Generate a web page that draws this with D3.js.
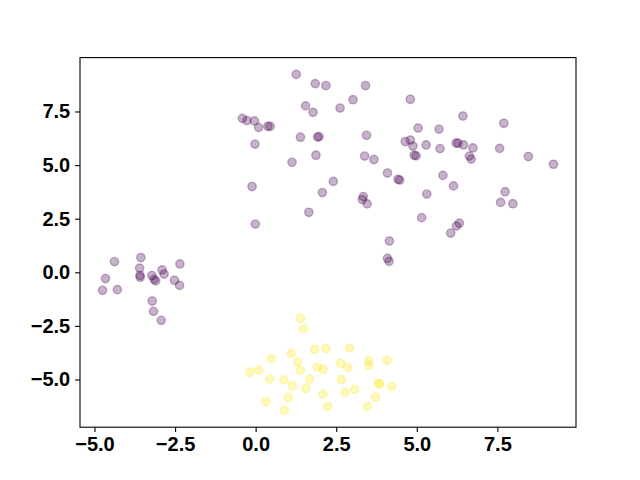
<!DOCTYPE html>
<html>
<head>
<meta charset="utf-8">
<script src="https://cdn.jsdelivr.net/npm/d3@7"></script>
<style>
  body { margin: 0; background: #fff; }
  text { font-family: "Liberation Sans", Arial, sans-serif; font-weight: bold; }
</style>
</head>
<body>
<div id="chart"></div>
<script>
const width = 640, height = 480,
      margin = {top: 57.6, right: 64, bottom: 52.8, left: 80};

// class 0 (purple) points
const purpleX = [1.26, 1.85, 2.18, 1.55, 1.78, -0.41, -0.27, -0.04, 0.09, 0.38, 0.45, 1.39, 1.92, 1.97,
  -0.02, 1.87, 1.13, 2.41, -0.11, 2.07, 1.65, -0.01, 3.41, 3.02, 2.62, 4.80, 6.43, 7.70, 3.44, 5.04,
  5.69, 4.64, 4.80, 4.88, 5.29, 6.22, 6.28, 6.45, 6.74, 5.72, 7.57, 3.38, 3.67, 4.92, 4.98, 6.63,
  6.69, 8.46, 9.24, 4.09, 4.42, 4.47, 5.81, 6.14, 3.34, 3.31, 3.46, 5.31, 7.74, 7.60, 7.98, 5.15,
  6.32, 6.23, 6.05, 4.15, 4.09, 4.14,
  -4.38, -3.56, -4.66, -4.75, -4.29, -3.60, -3.59, -3.58, -3.22, -3.15, -3.10, -2.90, -2.84, -2.35,
  -2.52, -2.36, -3.21, -3.17, -2.93];
const purpleY = [9.23, 8.80, 8.71, 7.76, 7.46, 7.18, 7.08, 7.06, 6.76, 6.81, 6.81, 6.30, 6.31, 6.33,
  5.98, 5.46, 5.13, 4.24, 4.00, 3.72, 2.80, 2.25, 8.71, 8.05, 7.66, 8.07, 7.29, 6.95, 6.39, 6.73,
  6.68, 6.10, 6.17, 5.89, 5.94, 6.03, 6.02, 5.94, 5.80, 5.77, 5.78, 5.42, 5.26, 5.46, 5.43, 5.42,
  5.28, 5.40, 5.04, 4.63, 4.34, 4.30, 4.52, 4.03, 3.53, 3.39, 3.19, 3.65, 3.76, 3.26, 3.20, 2.55,
  2.29, 2.16, 1.83, 1.46, 0.65, 0.51,
  0.50, 0.69, -0.29, -0.84, -0.81, 0.19, -0.14, -0.23, -0.15, -0.33, -0.40, 0.11, -0.08, 0.39,
  -0.37, -0.61, -1.34, -1.82, -2.24];

// class 1 (yellow) points
const yellowX = [1.39, 1.49, 1.10, 0.49, 1.83, 2.18, 2.91, 1.30, -0.18, 0.09, 0.43, 1.39, 0.88, 1.14,
  1.67, 1.91, 2.09, 2.63, 2.85, 3.51, 3.51, 4.08, 2.66, 1.56, 3.80, 3.85, 4.22, 3.07, 2.77, 2.09,
  1.01, 3.72, 0.32, 0.89, 2.23, 3.47];
const yellowY = [-2.15, -2.64, -3.78, -4.03, -3.59, -3.56, -3.53, -4.18, -4.66, -4.56, -4.98, -4.57,
  -5.02, -5.30, -4.98, -4.42, -4.52, -4.24, -4.43, -4.12, -4.34, -4.10, -5.00, -5.41, -5.18, -5.21,
  -5.32, -5.46, -5.60, -5.68, -5.83, -5.82, -6.03, -6.44, -6.26, -6.26];

const xTicks = [-5, -2.5, 0, 2.5, 5, 7.5];
const yTicks = [-5, -2.5, 0, 2.5, 5, 7.5];

const points = [];
purpleX.forEach((x, i) => points.push({x: x, y: purpleY[i], c: 0}));
yellowX.forEach((x, i) => points.push({x: x, y: yellowY[i], c: 1}));

function pad(ext) {
  const m = (ext[1] - ext[0]) * 0.05;
  return [ext[0] - m, ext[1] + m];
}

const x = d3.scaleLinear()
  .domain(pad(d3.extent(points, d => d.x)))
  .range([margin.left, width - margin.right]);
const y = d3.scaleLinear()
  .domain(pad(d3.extent(points, d => d.y)))
  .range([height - margin.bottom, margin.top]);

const color = c => c === 0 ? "#440154" : "#fde725";
const fmt = v => d3.format(".1f")(v).replace("-", "\u2212");

const svg = d3.select("#chart").append("svg")
  .attr("width", width)
  .attr("height", height);

svg.append("g")
  .selectAll("circle")
  .data(points)
  .enter()
  .append("circle")
  .attr("cx", d => x(d.x))
  .attr("cy", d => y(d.y))
  .attr("r", 4.17)
  .attr("fill", d => color(d.c))
  .attr("fill-opacity", 0.3)
  .attr("stroke", d => color(d.c))
  .attr("stroke-opacity", 0.3)
  .attr("stroke-width", 1.39);

const xAxis = svg.append("g")
  .attr("transform", `translate(0,${height - margin.bottom})`)
  .call(d3.axisBottom(x).tickValues(xTicks).tickFormat(fmt).tickSizeOuter(0).tickSize(4.9).tickPadding(4.9));
const yAxis = svg.append("g")
  .attr("transform", `translate(${margin.left},0)`)
  .call(d3.axisLeft(y).tickValues(yTicks).tickFormat(fmt).tickSizeOuter(0).tickSize(4.9).tickPadding(4.9));

[xAxis, yAxis].forEach(a => {
  a.select(".domain").remove();
  a.selectAll("line").attr("stroke", "#000").attr("stroke-width", 1.1);
  a.selectAll("text").attr("fill", "#000").style("font-size", "20px")
    .style("font-family", "'Liberation Sans', Arial, sans-serif").style("font-weight", "bold");
});

svg.append("rect")
  .attr("x", margin.left)
  .attr("y", margin.top)
  .attr("width", width - margin.left - margin.right)
  .attr("height", height - margin.top - margin.bottom)
  .attr("fill", "none")
  .attr("stroke", "#000")
  .attr("stroke-width", 1.1);
</script>
</body>
</html>
